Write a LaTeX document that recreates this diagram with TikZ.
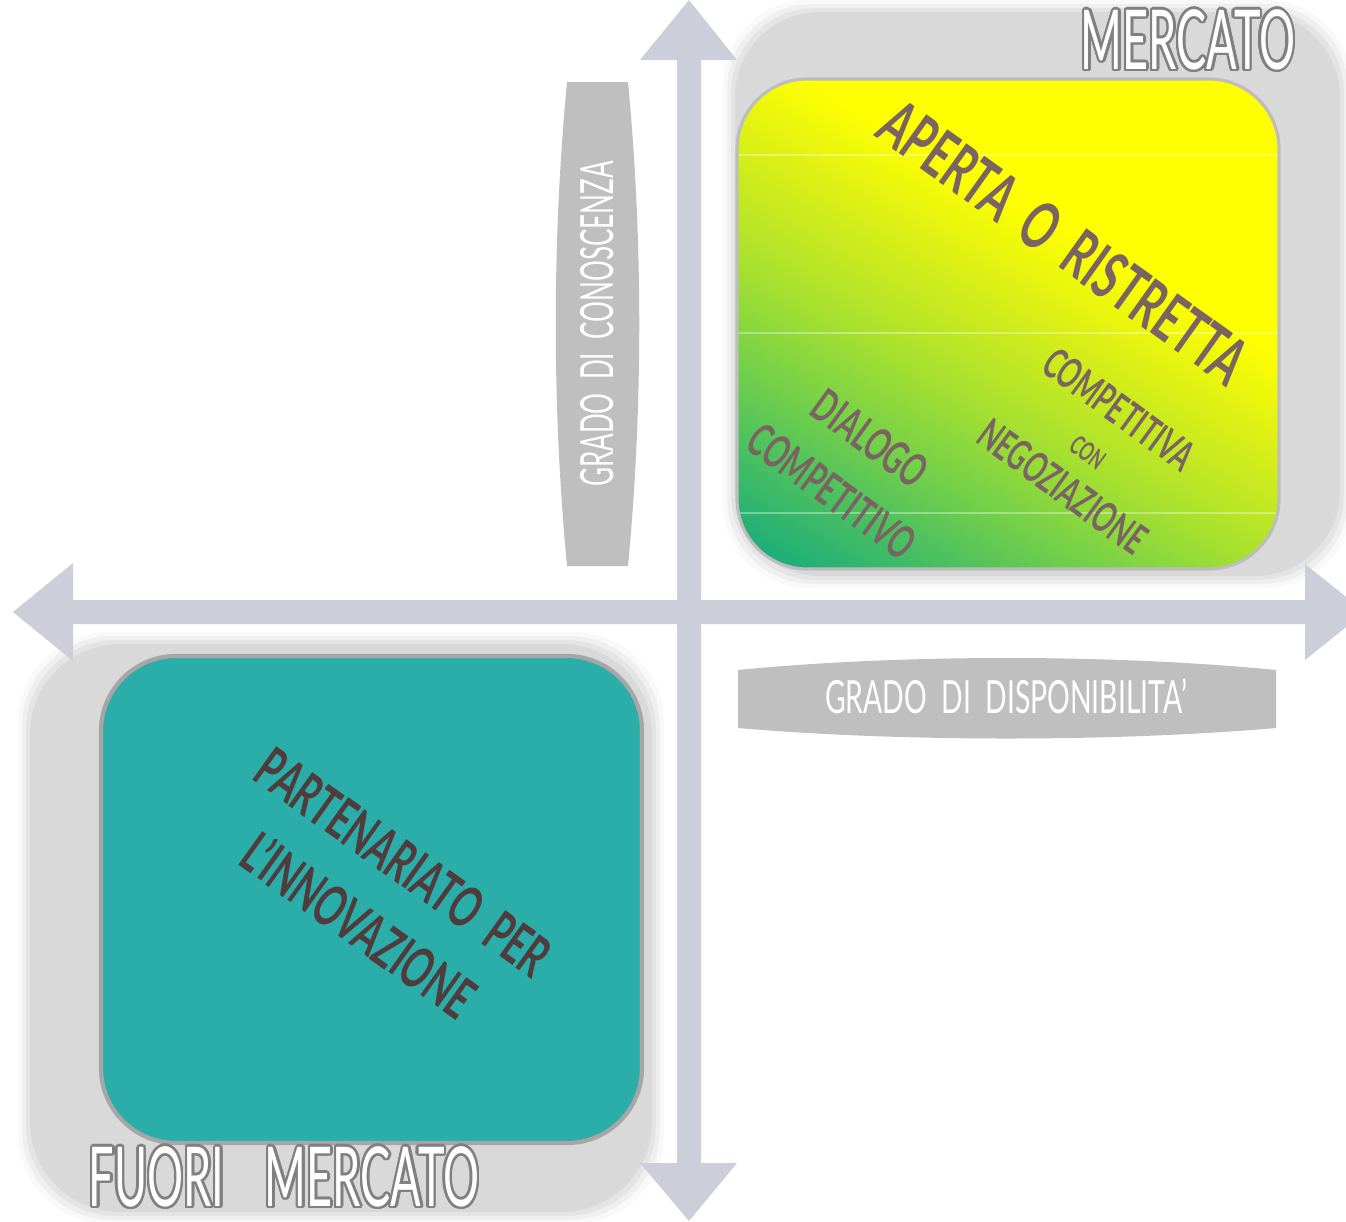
\documentclass[tikz,border=0pt]{standalone}
\usepackage{fontspec}
\usepackage[copies]{contour}
\usetikzlibrary{positioning}
\newfontfamily\mkfont[FakeStretch=0.62]{Lato}
\newfontfamily\mktitle[FakeStretch=0.545]{Lato}
\contourlength{0.7pt}

\definecolor{mkarrow}{RGB}{204,207,217}
\definecolor{mkshade}{RGB}{217,217,217}
\definecolor{mkbox}{RGB}{191,191,191}
\definecolor{mkrim}{RGB}{189,189,189}
\definecolor{mkedge}{RGB}{166,166,166}
\definecolor{mkteal}{RGB}{43,173,170}
\definecolor{mktext}{RGB}{122,100,97}
\definecolor{mkdark}{RGB}{80,60,60}
\definecolor{mkoutline}{RGB}{128,128,128}
\definecolor{mkfadeA}{RGB}{18,168,128}
\definecolor{mkfadeB}{RGB}{60,186,104}
\definecolor{mkfadeC}{RGB}{114,207,74}
\definecolor{mkfadeD}{RGB}{173,226,44}
\definecolor{mkfadeE}{RGB}{221,240,21}

\pgfdeclareverticalshading{mkfade}{100bp}{color(0bp)=(mkfadeA); color(16bp)=(mkfadeA);
  color(24bp)=(mkfadeB); color(33bp)=(mkfadeC); color(43bp)=(mkfadeD);
  color(53bp)=(mkfadeE); color(61bp)=(yellow); color(100bp)=(yellow)}

\begin{document}
\begin{tikzpicture}[x=0.01cm,y=-0.01cm,
  mklabel/.style={text=white,inner sep=0pt,font=\mkfont\fontsize{13}{15}\selectfont},
  mkbig/.style={text=white,inner sep=0pt,font=\mktitle\fontsize{23.5}{26}\selectfont},
  mkitem/.style={text=mktext,inner sep=0pt,align=center}]

\useasboundingbox (0,0) rectangle (1346,1221);

% Schatten
\foreach \b/\o in {12/0.15,8/0.3,4/0.5}{
  \fill[mkshade,opacity=\o,rounded corners=0.85cm] (735-\b,12-\b) rectangle (1340+\b,576+\b);
  \fill[mkshade,opacity=\o,rounded corners=0.9cm] (30-\b,644-\b) rectangle (652+\b,1212+\b);
}
\fill[mkshade,rounded corners=0.85cm] (735,12) rectangle (1340,576);
\fill[mkshade,rounded corners=0.9cm] (30,644) rectangle (652,1212);

% Achsen
\fill[mkarrow] (677,1163) -- (677,60) -- (640,60) -- (689,0) -- (737,60) -- (701,60)
  -- (701,1163) -- (737,1163) -- (689,1221) -- (640,1163) -- cycle;
\fill[mkarrow] (73,600) -- (1305,600) -- (1305,564) -- (1365,612) -- (1305,660) -- (1305,624)
  -- (73,624) -- (73,661) -- (13,612) -- (73,563) -- cycle;

% Beschriftung Achsen
\fill[mkbox] (567,82) -- (628,82) .. controls (643,240) and (643,408) .. (628,566)
  -- (567,566) .. controls (552,408) and (552,240) .. (567,82) -- cycle;
\fill[mkbox] (738,670) .. controls (900,654) and (1114,654) .. (1276,670)
  -- (1276,728) .. controls (1114,742) and (900,742) .. (738,728) -- cycle;
\node[mklabel,rotate=90] (conoscenza) at (597,324)
  {\addfontfeature{FakeStretch=0.57}GRADO\ \ DI\ \ CONOSCENZA};
\node[mklabel] (disponibilita) at (1006,696) {GRADO\ \ DI\ \ DISPONIBILITA’};

% Mercato
\begin{scope}
  \clip[rounded corners=0.7cm] (737,79) rectangle (1279,569);
  \shade[shading=mkfade,shading angle=-30] (737,79) rectangle (1279,569);
  \draw[white,opacity=0.35] (737,155) -- (1279,155) (737,333) -- (1279,333) (737,513) -- (1279,513);
\end{scope}
\draw[mkrim,line width=0.9pt,rounded corners=0.7cm] (737,79) rectangle (1279,569);

% Fuori mercato
\draw[mkedge,fill=mkteal,line width=1.2pt,rounded corners=0.75cm] (101,656) rectangle (642,1143);

% Procedure
\node[mkitem,rotate=-35.5,font=\mkfont\bfseries\fontsize{18.7}{20}\selectfont] (aperta) at (1064,242)
  {APERTA\ \ O\ \ RISTRETTA};
\node[mkitem,rotate=-36,font=\mkfont\bfseries\fontsize{12}{13.6}\selectfont] (negoziazione) at (1091,448)
  {COMPETITIVA\\{\fontsize{7.5}{8}\selectfont CON}\\NEGOZIAZIONE};
\node[mkitem,rotate=-36,font=\mkfont\bfseries\fontsize{13}{18.5}\selectfont] (dialogo) at (851,465)
  {DIALOGO\\COMPETITIVO};
\node[mkitem,text=mkdark,rotate=-35.5,font=\mkfont\bfseries\fontsize{16.2}{22}\selectfont] (partenariato) at (381,894)
  {PARTENARIATO\ \ PER\\L’INNOVAZIONE};

% Titel
\node[mkbig] (mercato) at (1188,41) {\contour{mkoutline}{MERCATO}};
\node[mkbig] (fuori) at (284,1178) {\contour{mkoutline}{FUORI\hspace{11.5pt}MERCATO}};

\end{tikzpicture}
\end{document}
